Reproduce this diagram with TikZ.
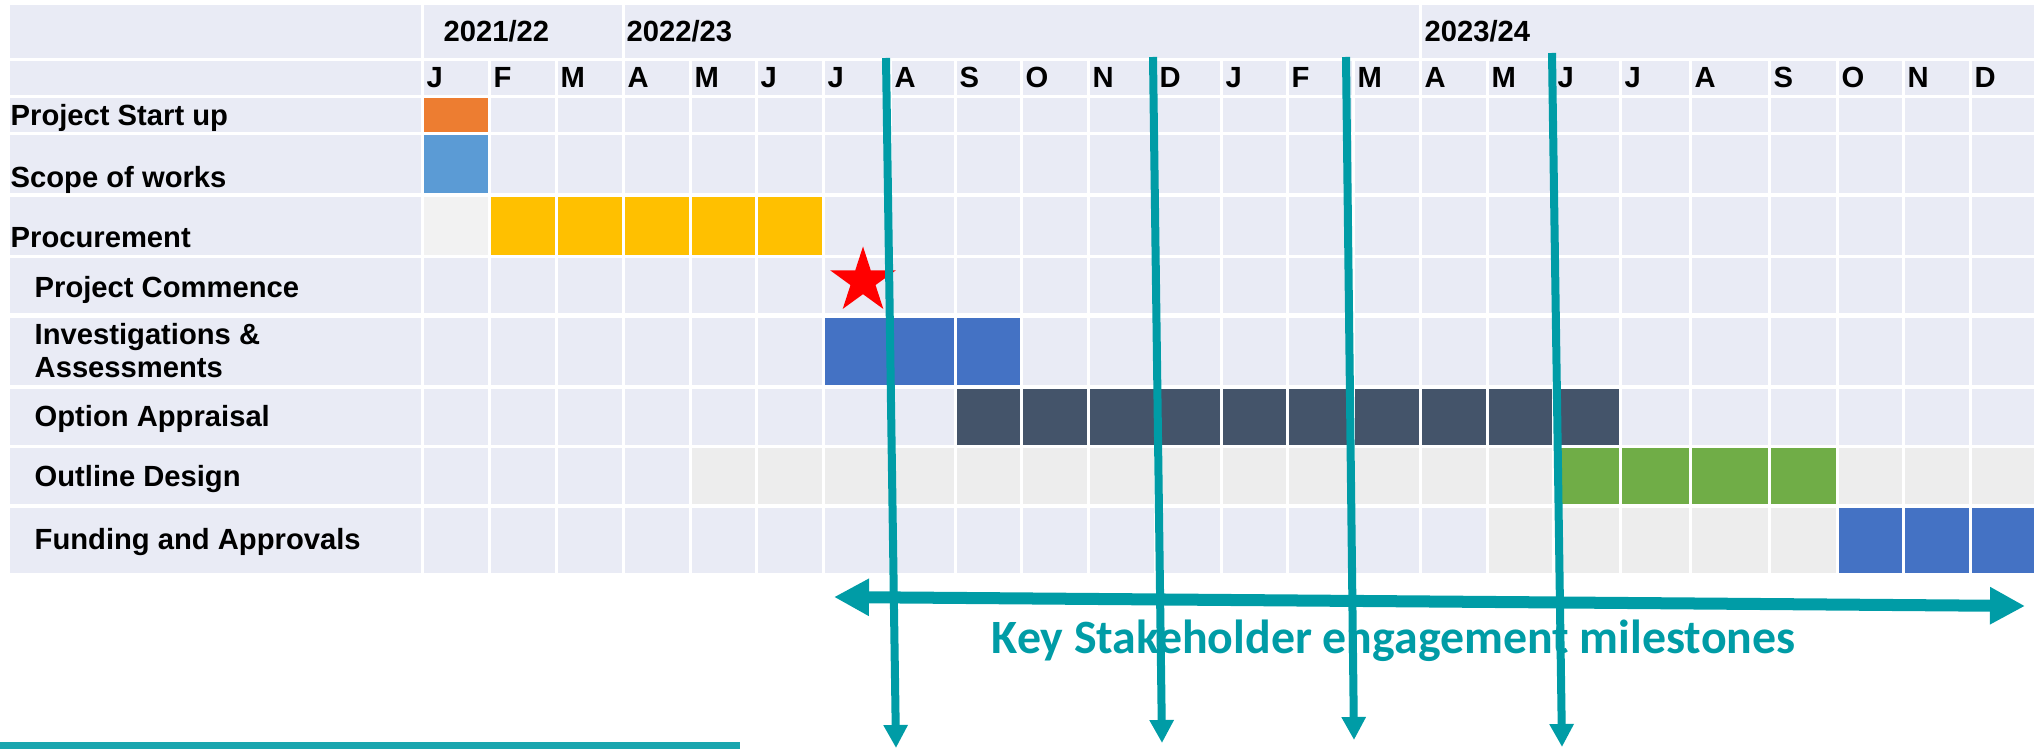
\documentclass[tikz,border=0pt]{standalone}
\usepackage{fontspec}
\setmainfont{Liberation Sans}
\newfontfamily\keyfont{Carlito}
\usetikzlibrary{arrows.meta,shapes.geometric}

\definecolor{cellbg}{HTML}{E9EBF5}
\definecolor{greycell}{HTML}{EDEDED}
\definecolor{lightcell}{HTML}{F2F2F2}
\definecolor{startorange}{HTML}{ED7D31}
\definecolor{scopeblue}{HTML}{5B9BD5}
\definecolor{procyellow}{HTML}{FFC000}
\definecolor{taskblue}{HTML}{4472C4}
\definecolor{optionslate}{HTML}{44546A}
\definecolor{designgreen}{HTML}{70AD47}
\definecolor{keyteal}{RGB}{0,156,166}

% left edges of the month columns (last one closes the grid)
\def\colx{{424,491,558,625,692,758,825,892,957,1023,1090,1157,1223,1289,1355,1422,1489,1555,1622,1692,1771,1839,1905,1972,2037}}

\newcommand\gcell[4]{%
  \pgfmathsetmacro\xa{\colx[#1]}%
  \pgfmathsetmacro\xb{\colx[#1+1]-3}%
  \fill[#4] (\xa,#2) rectangle (\xb,#3);}

\tikzset{
  rowlabel/.style={anchor=base west, inner sep=0pt, font=\fontsize{8.3}{9.4}\selectfont\bfseries},
  keytext/.style={anchor=base west, inner sep=0pt, text=keyteal, font=\keyfont\bfseries\fontsize{13.6}{16}\selectfont},
  milestone/.style={keyteal, line width=0.08cm, -{Triangle[length=0.23cm,width=0.23cm]}},
  engage/.style={keyteal, line width=0.12cm, {Triangle[length=0.35cm,width=0.35cm]}-{Triangle[length=0.35cm,width=0.35cm]}},
}

\begin{document}
\begin{tikzpicture}[x=0.01cm, y=-0.01cm]
        \useasboundingbox (0,0) rectangle (2036,749);

        % Year header
        \fill[cellbg] (10,5) rectangle (421,58);
        \fill[cellbg] (424,5) rectangle (622,58);
        \fill[cellbg] (625,5) rectangle (1419,58);
        \fill[cellbg] (1422,5) rectangle (2034,58);
        \node[rowlabel] (y1) at (443,42) {2021/22};
        \node[rowlabel] (y2) at (626,42) {2022/23};
        \node[rowlabel] (y3) at (1424,42) {2023/24};

        % Empty grid
        \foreach \t/\b in {61/95,98/132,135/193,197/255,258/313,318/385,389/445,448/504,508/573} {
          \fill[cellbg] (10,\t) rectangle (421,\b);
          \foreach \k in {0,...,23} {\gcell{\k}{\t}{\b}{cellbg}}
        }

        % Month letters
        \foreach \m [count=\i from 0] in {J,F,M,A,M,J,J,A,S,O,N,D,J,F,M,A,M,J,J,A,S,O,N,D} {
          \pgfmathsetmacro\xm{\colx[\i]+2}
          \node[rowlabel] (m\i) at (\xm,88) {\m};
        }

        % Task bars
        \gcell{0}{98}{132}{startorange}
        \gcell{0}{135}{193}{scopeblue}
        \gcell{0}{197}{255}{lightcell}
        \foreach \k in {1,...,5} {\gcell{\k}{197}{255}{procyellow}}
        \foreach \k in {6,7,8} {\gcell{\k}{318}{385}{taskblue}}
        \foreach \k in {8,...,17} {\gcell{\k}{389}{445}{optionslate}}
        \foreach \k in {4,...,16,21,22,23} {\gcell{\k}{448}{504}{greycell}}
        \foreach \k in {17,...,20} {\gcell{\k}{448}{504}{designgreen}}
        \foreach \k in {16,...,20} {\gcell{\k}{508}{573}{greycell}}
        \foreach \k in {21,22,23} {\gcell{\k}{508}{573}{taskblue}}

        % Row labels
        \node[rowlabel] (lstart) at (10,126) {Project Start up};
        \node[rowlabel] (lscope) at (10,188) {Scope of works};
        \node[rowlabel] (lproc) at (10,248) {Procurement};
        \node[rowlabel] (lcomm) at (34,298) {Project Commence};
        \node[rowlabel] (linv) at (34,345) {Investigations \&};
        \node[rowlabel] (lass) at (34,378) {Assessments};
        \node[rowlabel] (lopt) at (34,427) {Option Appraisal};
        \node[rowlabel] (ldes) at (34,487) {Outline Design};
        \node[rowlabel] (lfund) at (34,550) {Funding and Approvals};

        % Commence marker
        \node[star, star points=5, star point ratio=2.618, fill=red, inner sep=0pt, minimum size=0.69cm] (commence) at (863,281) {};

        % Engagement arrows
        \coordinate (ha) at (834,597);
        \coordinate (hb) at (2025,606);
        \draw[engage] (ha) -- (hb);
        \coordinate (v1a) at (886,58);
        \coordinate (v1b) at (896,748);
        \coordinate (v2a) at (1153,57);
        \coordinate (v2b) at (1162,743);
        \coordinate (v3a) at (1346,57);
        \coordinate (v3b) at (1354,740);
        \coordinate (v4a) at (1552,53);
        \coordinate (v4b) at (1562,747);
        \foreach \v in {1,2,3,4} {
          \draw[milestone] (v\v a) -- (v\v b);
        }
        \node[keytext] (keylabel) at (991,653) {Key Stakeholder engagement milestones};

        \fill[keyteal!90] (0,742) rectangle (740,749);
\end{tikzpicture}
\end{document}
